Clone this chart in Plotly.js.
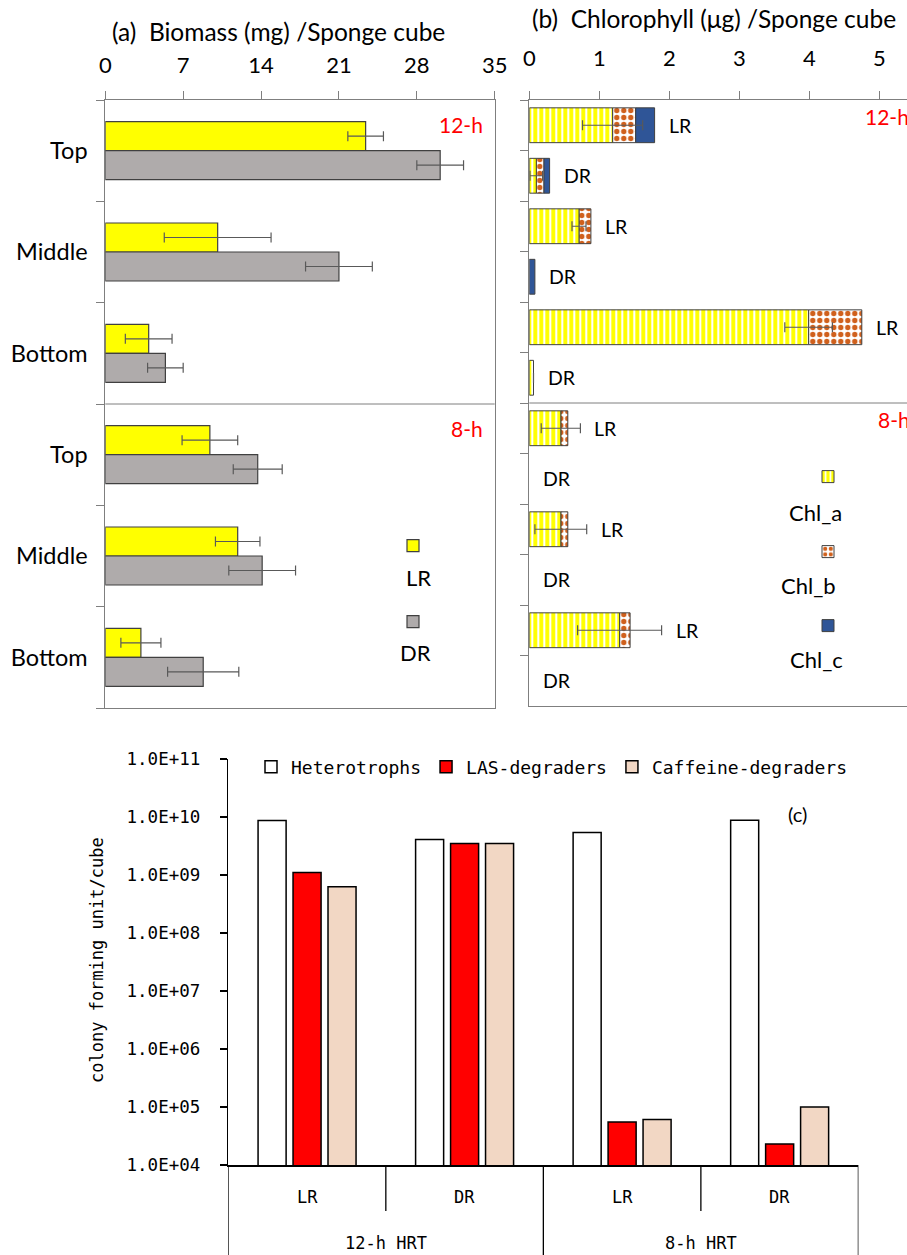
<!DOCTYPE html>
<html>
<head>
<meta charset="utf-8">
<script src="https://cdn.plot.ly/plotly-3.0.1.min.js"></script>
<style>
  html, body { margin: 0; padding: 0; background: #fff; }
  #chart { width: 907px; height: 1255px; }
</style>
</head>
<body>
<div id="chart"></div>
<script>
// ---- (a) Biomass per sponge cube ----
const biomassRows = ["12-h Top", "12-h Middle", "12-h Bottom", "8-h Top", "8-h Middle", "8-h Bottom"];
const biomassRowLabels = ["Top", "Middle", "Bottom", "Top", "Middle", "Bottom"];
const biomassTicks = [0, 7, 14, 21, 28, 35];
const biomassLR = [23.4, 10.1, 3.9, 9.4, 11.9, 3.2];
const biomassLRErr = [1.6, 4.8, 2.1, 2.5, 2.0, 1.8];
const biomassDR = [30.1, 21.0, 5.4, 13.7, 14.1, 8.8];
const biomassDRErr = [2.1, 3.0, 1.6, 2.2, 3.0, 3.2];

// ---- (b) Chlorophyll per sponge cube ----
const chlRows = ["12-h Top LR", "12-h Top DR", "12-h Middle LR", "12-h Middle DR",
                 "12-h Bottom LR", "12-h Bottom DR", "8-h Top LR", "8-h Top DR",
                 "8-h Middle LR", "8-h Middle DR", "8-h Bottom LR", "8-h Bottom DR"];
const chlRowLabels = ["LR", "DR", "LR", "DR", "LR", "DR", "LR", "DR", "LR", "DR", "LR", "DR"];
const chlTicks = [0, 1, 2, 3, 4, 5];
const chlA = [1.19, 0.10, 0.71, 0.00, 3.99, 0.06, 0.45, 0.00, 0.45, 0.00, 1.29, 0.00];
const chlAErr = [0.43, 0.09, 0.10, 0.00, 0.34, 0.00, 0.28, 0.00, 0.37, 0.00, 0.60, 0.00];
const chlB = [0.33, 0.11, 0.17, 0.00, 0.76, 0.00, 0.10, 0.00, 0.10, 0.00, 0.15, 0.00];
const chlC = [0.27, 0.08, 0.00, 0.08, 0.00, 0.00, 0.00, 0.00, 0.00, 0.00, 0.00, 0.00];

// ---- (c) Colony forming units per cube ----
const cfuCats = ["12-h HRT LR", "12-h HRT DR", "8-h HRT LR", "8-h HRT DR"];
const cfuReactor = ["LR", "DR", "LR", "DR"];
const cfuHrt = ["12-h HRT", "12-h HRT", "8-h HRT", "8-h HRT"];
const heterotrophs = [8.7e9, 4.1e9, 5.4e9, 8.8e9];
const lasDegraders = [1.1e9, 3.5e9, 5.5e4, 2.3e4];
const caffeineDegraders = [6.3e8, 3.5e9, 6.1e4, 1.0e5];
const cfuTicks = [1e4, 1e5, 1e6, 1e7, 1e8, 1e9, 1e10, 1e11];
const cfuTickText = ["1.0E+04", "1.0E+05", "1.0E+06", "1.0E+07", "1.0E+08", "1.0E+09", "1.0E+10", "1.0E+11"];

// page geometry helpers (pixels -> paper fractions)
const W = 907, H = 1255;
const px = v => v / W;
const py = v => 1 - v / H;

const BASE_FONT = "Lato, 'Open Sans', sans-serif";
const MONO_FONT = "'DejaVu Sans Mono', monospace";
const frameColor = "#7f7f7f";
const errColor = "#595959";
const barEdge = { color: "#404040", width: 1.2 };
const chlEdge = { color: "#404040", width: 1 };

// empty segments are left out so no outline or error cap is drawn for them
const present = vals => vals.map(v => (v > 0 ? v : null));

// stacking bases for the chlorophyll bars
const chlBBase = chlA.slice();
const chlCBase = chlA.map((a, i) => a + chlB[i]);

const traces = [
  // (a)
  {
    type: "bar", orientation: "h", xaxis: "x", yaxis: "y",
    y: biomassRows, x: biomassLR, name: "", legend: "legend2",
    width: 0.286, offset: -0.286,
    marker: { color: "#FFFF00", line: barEdge },
    error_x: { type: "data", array: biomassLRErr, visible: true, color: errColor, thickness: 1.2, width: 5 }
  },
  {
    type: "bar", orientation: "h", xaxis: "x", yaxis: "y",
    y: biomassRows, x: biomassDR, name: "", legend: "legend3",
    width: 0.286, offset: 0,
    marker: { color: "#AFABAB", line: barEdge },
    error_x: { type: "data", array: biomassDRErr, visible: true, color: errColor, thickness: 1.2, width: 5 }
  },
  // (b) stacked via base; Chl_a last so its error bar sits on top
  {
    type: "bar", orientation: "h", xaxis: "x2", yaxis: "y2",
    y: chlRows, x: present(chlB), base: chlBBase, name: "", legend: "legend5",
    width: 0.69, offset: -0.345,
    marker: {
      color: "#FFFFFF", line: chlEdge,
      pattern: { shape: ".", fgcolor: "#D0601C", bgcolor: "#FFFFFF", size: 7, solidity: 0.45, fillmode: "replace" }
    }
  },
  {
    type: "bar", orientation: "h", xaxis: "x2", yaxis: "y2",
    y: chlRows, x: present(chlC), base: chlCBase, name: "", legend: "legend6",
    width: 0.69, offset: -0.345,
    marker: { color: "#2F5597", line: chlEdge }
  },
  {
    type: "bar", orientation: "h", xaxis: "x2", yaxis: "y2",
    y: chlRows, x: present(chlA), name: "", legend: "legend4",
    width: 0.69, offset: -0.345,
    marker: {
      color: "#FFFF00", line: chlEdge,
      pattern: { shape: "|", fgcolor: "#FFFFFF", bgcolor: "#FFFF00", size: 6, solidity: 0.35, fillmode: "replace" }
    },
    error_x: { type: "data", array: chlAErr, visible: true, color: errColor, thickness: 1.2, width: 5 }
  },
  // (c)
  {
    type: "bar", xaxis: "x3", yaxis: "y3", x: cfuCats, y: heterotrophs, name: "Heterotrophs",
    width: 0.178, offset: -0.311,
    marker: { color: "#FFFFFF", line: { color: "#000000", width: 1.5 } }
  },
  {
    type: "bar", xaxis: "x3", yaxis: "y3", x: cfuCats, y: lasDegraders, name: "LAS-degraders",
    width: 0.178, offset: -0.089,
    marker: { color: "#FF0000", line: { color: "#000000", width: 1.5 } }
  },
  {
    type: "bar", xaxis: "x3", yaxis: "y3", x: cfuCats, y: caffeineDegraders, name: "Caffeine-degraders",
    width: 0.178, offset: 0.133,
    marker: { color: "#F2D7C4", line: { color: "#000000", width: 1.5 } }
  }
];

// annotations
const annotations = [];
const txt = (x, y, text, size, extra) => Object.assign({
  xref: "paper", yref: "paper", x: px(x), y: py(y), text: text, showarrow: false,
  xanchor: "center", yanchor: "middle", font: { family: BASE_FONT, size: size || 21, color: "#000" }
}, extra || {});
const red = size => ({ family: BASE_FONT, size: size, color: "#FF0000" });

annotations.push(txt(278, 31, "(a)\u00a0\u00a0Biomass (mg) /Sponge cube", 24.5));
annotations.push(txt(530, 19, "(b)\u00a0\u00a0Chlorophyll (μg) /Sponge cube", 24.5, { xanchor: "left" }));
annotations.push(txt(485, 124, "12-h", 21, { xanchor: "right", font: red(21) }));
annotations.push(txt(485, 428, "8-h", 21, { xanchor: "right", font: red(21) }));
annotations.push(txt(863, 117, "12-h", 21, { xanchor: "left", font: red(21) }));
annotations.push(txt(876, 420, "8-h", 21, { xanchor: "left", font: red(21) }));
// legend captions
annotations.push(txt(418, 577, "LR", 22));
annotations.push(txt(415, 652, "DR", 22));
annotations.push(txt(815, 512, "Chl_a", 22));
annotations.push(txt(808, 585, "Chl_b", 22));
annotations.push(txt(816, 659, "Chl_c", 22));
annotations.push(txt(797, 814, "(c)", 20));
annotations.push(txt(97, 960, "colony forming unit/cube", 17, { textangle: -90, font: { family: MONO_FONT, size: 17, color: "#000" } }));

// reactor labels beside the chlorophyll bars
chlRows.forEach((r, i) => {
  annotations.push({
    xref: "x2", yref: "y2", x: Math.max(chlA[i] + chlB[i] + chlC[i], chlA[i] + chlAErr[i]), y: i,
    text: chlRowLabels[i], showarrow: false, xanchor: "left", yanchor: "middle", xshift: 12,
    font: { family: BASE_FONT, size: 19.5, color: "#000" }
  });
});

// category table under panel (c)
cfuReactor.forEach((r, i) => {
  annotations.push({
    xref: "x3", yref: "paper", x: i, y: py(1197), text: r, showarrow: false,
    xanchor: "center", yanchor: "middle", font: { family: MONO_FONT, size: 17, color: "#000" }
  });
});
const hrtGroups = [...new Set(cfuHrt)];
hrtGroups.forEach(g => {
  const idx = cfuHrt.map((h, i) => (h === g ? i : -1)).filter(i => i >= 0);
  const mid = (idx[0] + idx[idx.length - 1]) / 2;
  annotations.push({
    xref: "x3", yref: "paper", x: mid, y: py(1243), text: g, showarrow: false,
    xanchor: "center", yanchor: "middle", font: { family: MONO_FONT, size: 17, color: "#000" }
  });
});

// shapes: HRT dividers in (a)/(b) and category table lines in (c)
const shapes = [
  { type: "line", xref: "x domain", yref: "y", x0: 0, x1: 1, y0: 2.5, y1: 2.5, line: { color: frameColor, width: 1 } },
  { type: "line", xref: "x2 domain", yref: "y2", x0: 0, x1: 1, y0: 5.5, y1: 5.5, line: { color: frameColor, width: 1 } }
];
for (let i = 0; i <= cfuCats.length; i++) {
  const edge = (i === 0 || i === cfuCats.length || cfuHrt[i] !== cfuHrt[i - 1]);
  shapes.push({
    type: "line", xref: "x3", yref: "paper", x0: i - 0.5, x1: i - 0.5,
    y0: py(1165), y1: edge ? 0 : py(1211), line: { color: "#000", width: 1.3 }
  });
}

const keyLegend = (cx, cy) => ({
  x: px(cx - 20), y: py(cy), xanchor: "left", yanchor: "middle",
  bgcolor: "rgba(0,0,0,0)", borderwidth: 0, font: { family: BASE_FONT, size: 14 }
});

const axisCommon = {
  showgrid: false, zeroline: false, showline: true, linecolor: frameColor, linewidth: 1,
  ticks: "outside", ticklen: 8, tickcolor: frameColor, tickwidth: 1
};

const layout = {
  width: W, height: H,
  margin: { l: 0, r: 0, t: 0, b: 0 },
  paper_bgcolor: "#FFFFFF", plot_bgcolor: "#FFFFFF",
  barmode: "group",
  font: { family: BASE_FONT, color: "#000" },
  showlegend: true,
  xaxis: Object.assign({}, axisCommon, {
    domain: [px(105.3), px(494.7)], anchor: "y", side: "top", range: [0, 35],
    tickmode: "array", tickvals: biomassTicks, mirror: true,
    tickfont: { family: BASE_FONT, size: 22, color: "#000" }, ticklabelstandoff: 9
  }),
  yaxis: Object.assign({}, axisCommon, {
    domain: [py(708), py(100)], anchor: "x", type: "category",
    categoryorder: "array", categoryarray: biomassRows, range: [5.5, -0.5],
    tickmode: "array", tickvals: biomassRows, ticktext: biomassRowLabels,
    tickson: "boundaries", mirror: true,
    tickfont: { family: BASE_FONT, size: 23.5, color: "#000" }, ticklabelstandoff: 12
  }),
  xaxis2: Object.assign({}, axisCommon, {
    domain: [px(529.3), 1], anchor: "y2", side: "top", range: [0, (W - 529.3) / 70],
    tickmode: "array", tickvals: chlTicks, mirror: true,
    tickfont: { family: BASE_FONT, size: 22, color: "#000" }, ticklabelstandoff: 16
  }),
  yaxis2: Object.assign({}, axisCommon, {
    domain: [py(706), py(100)], anchor: "x2", type: "category",
    categoryorder: "array", categoryarray: chlRows, range: [11.5, -0.5],
    tickmode: "array", tickvals: chlRows, ticktext: chlRowLabels,
    tickson: "boundaries", showticklabels: false
  }),
  xaxis3: {
    domain: [px(228.3), px(858.4)], anchor: "y3", type: "category",
    categoryorder: "array", categoryarray: cfuCats, range: [-0.5, 3.5],
    showticklabels: false, ticks: "", showgrid: false, zeroline: false,
    showline: true, linecolor: "#000", linewidth: 1.5
  },
  yaxis3: {
    domain: [py(1165), py(759)], anchor: "x3", type: "log", range: [4, 11],
    tickmode: "array", tickvals: cfuTicks, ticktext: cfuTickText,
    ticks: "outside", ticklen: 7, tickcolor: "#000", tickwidth: 1.3,
    showgrid: false, zeroline: false, showline: true, linecolor: "#000", linewidth: 1.5,
    tickfont: { family: MONO_FONT, size: 17.5, color: "#000" }, ticklabelstandoff: 16
  },
  legend: {
    orientation: "h", x: px(251), y: py(767), xanchor: "left", yanchor: "middle",
    bgcolor: "rgba(0,0,0,0)", borderwidth: 0,
    font: { family: MONO_FONT, size: 18, color: "#000" }
  },
  legend2: keyLegend(413, 546),
  legend3: keyLegend(413, 622),
  legend4: keyLegend(828, 477),
  legend5: keyLegend(828, 552),
  legend6: keyLegend(828, 626),
  annotations: annotations,
  shapes: shapes
};

Plotly.newPlot("chart", traces, layout, { displayModeBar: false, staticPlot: true });
</script>
</body>
</html>
